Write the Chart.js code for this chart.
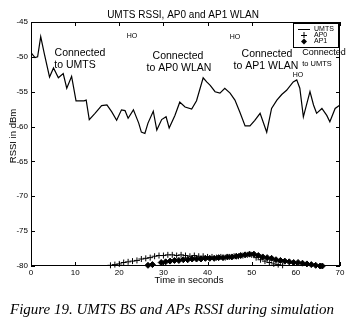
<!DOCTYPE html>
<html>
<head>
<meta charset="utf-8">
<script src="https://cdn.jsdelivr.net/npm/chart.js@4/dist/chart.umd.min.js"></script>
<style>
  html, body { margin: 0; padding: 0; background: #fff; }
  #c { display: block; }
</style>
</head>
<body>
<canvas id="c" width="350" height="321"></canvas>
<script>
// UMTS RSSI trace (time in s, dBm)
const umtsTime = [0, 0.9, 1.5, 2.2, 3.0, 4.2, 5.1, 6.2, 7.3, 8.1, 9.2, 10.2, 12.0, 12.5, 13.2, 14.5, 16.0, 17.2, 18.3,
  19.4, 20.5, 21.3, 22.0, 23.2, 24.4, 25.0, 25.8, 26.5, 27.7, 28.5, 29.6, 30.6, 31.3, 32.6, 33.7, 34.9, 36.4, 37.5, 39.0,
  39.8, 40.6, 41.7, 42.8, 43.9, 45.1, 46.2, 47.3, 48.5, 49.6, 50.7, 51.9, 53.4, 54.5, 55.7, 56.8, 57.9, 59.4, 60.2,
  60.9, 61.7, 63.2, 64.0, 64.7, 65.9, 67.0, 67.7, 68.9, 70.0];
const umtsRssi = [-49.4, -50.1, -50.0, -47.1, -49.5, -52.9, -51.6, -53.0, -52.4, -54.5, -52.8, -56.3, -56.3, -56.2, -59.0,
  -58.1, -57.0, -56.9, -57.9, -59.1, -57.6, -57.7, -58.8, -57.6, -59.5, -60.8, -61.0, -59.5, -57.8, -60.5, -59.0, -58.6,
  -60.2, -58.4, -56.5, -57.2, -57.5, -56.3, -53.0, -53.6, -54.1, -55.0, -55.2, -54.5, -55.2, -56.2, -57.9, -59.9, -59.9,
  -59.1, -58.1, -60.8, -57.4, -56.2, -55.4, -54.8, -53.6, -53.3, -54.5, -58.6, -55.0, -56.9, -58.1, -57.4, -58.4, -59.3,
  -57.4, -56.9];

const ap0Time = [18, 19, 20, 21, 22, 23, 24, 25, 26, 27, 28, 29, 30, 31, 32, 33, 34, 35, 36, 37, 38, 39, 40, 41, 42, 43,
  44, 45, 46, 47, 48, 49, 50, 51, 52, 53, 54, 55, 56, 57];
const ap0Rssi = [-79.9, -79.8, -79.7, -79.5, -79.4, -79.3, -79.2, -79.0, -78.9, -78.8, -78.6, -78.5, -78.5, -78.4, -78.4,
  -78.5, -78.4, -78.5, -78.6, -78.5, -78.6, -78.6, -78.7, -78.7, -78.8, -78.7, -78.8, -78.7, -78.6, -78.6, -78.5, -78.4,
  -78.4, -78.8, -79.1, -79.3, -79.5, -79.7, -79.8, -79.9];

const ap1Time = [26.5, 27.5, 29.5, 30.5, 31.5, 32.5, 33.5, 34.5, 35.5, 36.5, 37.5, 38.5, 39.5, 40.5, 41.5, 42.5, 43.5,
  44.5, 45.5, 46.5, 47.5, 48.5, 49.5, 50.5, 51.5, 52.5, 53.5, 54.5, 55.5, 56.5, 57.5, 58.5, 59.5, 60.5, 61.5, 62.5,
  63.5, 64.5, 65.5, 66.0];
const ap1Rssi = [-79.9, -79.8, -79.5, -79.4, -79.3, -79.2, -79.2, -79.1, -79.1, -79.0, -79.0, -79.0, -78.9, -78.9, -78.9,
  -78.8, -78.8, -78.7, -78.7, -78.6, -78.5, -78.4, -78.3, -78.3, -78.5, -78.7, -78.8, -78.9, -79.1, -79.2, -79.3, -79.4,
  -79.5, -79.5, -79.6, -79.7, -79.8, -79.9, -80.0, -80.0];

const xTicks = [0, 10, 20, 30, 40, 50, 60, 70];
const yTicks = [-45, -50, -55, -60, -65, -70, -75, -80];

const TITLE = 'UMTS RSSI, AP0 and AP1 WLAN';
const X_TITLE = 'Time in seconds';
const Y_TITLE = 'RSSI in dBm';
const CAPTION = 'Figure 19. UMTS BS and APs RSSI during simulation';
const LEGEND = ['UMTS', 'AP0', 'AP1'];
// [text, x, y, size] in canvas pixels
const NOTES = [
  ['HO', 132, 36, 7], ['HO', 235, 37, 7], ['HO', 298, 75, 7],
  ['Connected', 80, 53, 10.5], ['to UMTS', 75, 65, 10.5],
  ['Connected', 178, 56, 10.5], ['to AP0 WLAN', 179, 68, 10.5],
  ['Connected', 267, 54, 10.5], ['to AP1 WLAN', 266, 66, 10.5],
  ['Connected', 324, 53, 9], ['to UMTS', 317, 64, 7.5],
];

const pts = (xs, ys) => xs.map((x, i) => ({ x, y: ys[i] }));
const SANS = '"Liberation Sans", Arial, sans-serif';

// frame, inward ticks, titles, notes, legend, caption
const decor = {
  id: 'decor',
  afterDraw(chart) {
    const { ctx, chartArea: a, scales: { x, y } } = chart;
    ctx.save();
    ctx.strokeStyle = '#000';
    ctx.lineWidth = 1;
    ctx.strokeRect(Math.round(a.left) + 0.5, Math.round(a.top) + 0.5, Math.round(a.width) - 1, Math.round(a.height) - 1);
    ctx.beginPath();
    xTicks.forEach((v) => {
      const px = Math.round(x.getPixelForValue(v)) + 0.5;
      ctx.moveTo(px, a.bottom); ctx.lineTo(px, a.bottom - 4);
      ctx.moveTo(px, a.top); ctx.lineTo(px, a.top + 4);
    });
    yTicks.forEach((v) => {
      const py = Math.round(y.getPixelForValue(v)) + 0.5;
      ctx.moveTo(a.left, py); ctx.lineTo(a.left + 4, py);
      ctx.moveTo(a.right, py); ctx.lineTo(a.right - 4, py);
    });
    ctx.stroke();

    ctx.fillStyle = '#000';
    ctx.textAlign = 'center';
    ctx.textBaseline = 'middle';
    ctx.font = `10px ${SANS}`;
    ctx.fillText(TITLE, 183, 15.5);
    ctx.font = `9.5px ${SANS}`;
    ctx.fillText(X_TITLE, 189, 280);
    ctx.save();
    ctx.translate(13, 136);
    ctx.rotate(-Math.PI / 2);
    ctx.fillText(Y_TITLE, 0, 0);
    ctx.restore();

    NOTES.forEach(([t, nx, ny, sz]) => {
      ctx.font = `${sz}px ${SANS}`;
      ctx.fillText(t, nx, ny);
    });

    // legend box
    ctx.fillStyle = '#fff';
    ctx.fillRect(293.5, 23.5, 45, 24);
    ctx.strokeRect(293.5, 23.5, 45, 24);
    ctx.fillStyle = '#000';
    ctx.beginPath();
    ctx.moveTo(298, 29.5); ctx.lineTo(310, 29.5);
    ctx.moveTo(304, 32); ctx.lineTo(304, 38);
    ctx.moveTo(301, 35.5); ctx.lineTo(307, 35.5);
    ctx.stroke();
    ctx.beginPath();
    ctx.moveTo(304, 38.5); ctx.lineTo(307, 41.5); ctx.lineTo(304, 44.5); ctx.lineTo(301, 41.5);
    ctx.closePath(); ctx.fill();
    ctx.font = `7px ${SANS}`;
    ctx.textAlign = 'left';
    LEGEND.forEach((t, i) => ctx.fillText(t, 314, 29.5 + i * 6));

    ctx.font = `italic 15px "Liberation Serif", "Times New Roman", serif`;
    ctx.textAlign = 'center';
    ctx.textBaseline = 'alphabetic';
    ctx.fillText(CAPTION, 172, 314);
    ctx.restore();
  },
};

new Chart(document.getElementById('c'), {
  type: 'line',
  data: {
    datasets: [
      { label: 'UMTS', data: pts(umtsTime, umtsRssi), borderColor: '#000', borderWidth: 1.2, pointRadius: 0, tension: 0 },
      { label: 'AP0', data: pts(ap0Time, ap0Rssi), showLine: false, pointStyle: 'cross', pointRadius: 3,
        borderColor: '#000', borderWidth: 1, clip: false },
      { label: 'AP1', data: pts(ap1Time, ap1Rssi), showLine: false, pointStyle: 'rectRot', pointRadius: 3,
        backgroundColor: '#000', borderColor: '#000', borderWidth: 1, clip: false },
    ],
  },
  options: {
    responsive: false,
    animation: false,
    events: [],
    layout: { padding: { top: 22, right: 10, left: 0, bottom: 0 } },
    plugins: { legend: { display: false }, title: { display: false }, tooltip: { enabled: false } },
    scales: {
      x: {
        type: 'linear', min: 0, max: 70,
        afterFit: (s) => { s.height = 55; },
        afterBuildTicks: (s) => { s.ticks = xTicks.map((v) => ({ value: v })); },
        grid: { display: false, drawTicks: false },
        border: { display: false },
        ticks: { color: '#000', font: { size: 8, family: SANS }, padding: 2, maxRotation: 0, autoSkip: false },
      },
      y: {
        type: 'linear', min: -80, max: -45,
        afterFit: (s) => { s.width = 31; },
        afterBuildTicks: (s) => { s.ticks = yTicks.map((v) => ({ value: v })); },
        grid: { display: false, drawTicks: false },
        border: { display: false },
        ticks: { color: '#000', font: { size: 8, family: SANS }, padding: 3, autoSkip: false },
      },
    },
  },
  plugins: [decor],
});
</script>
</body>
</html>
